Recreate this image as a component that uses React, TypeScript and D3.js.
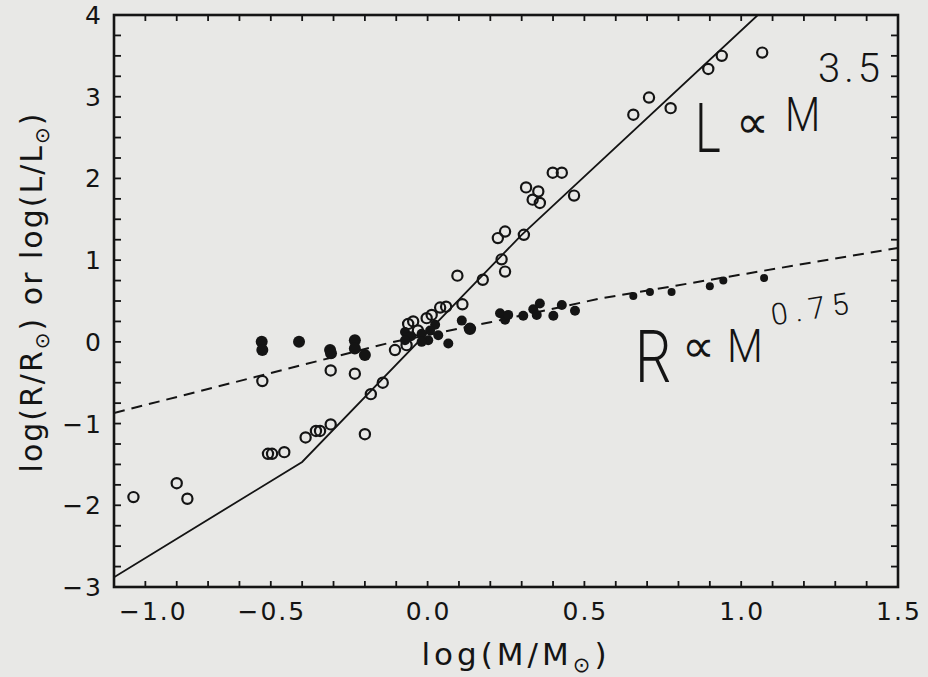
import React from 'react';
import * as d3 from 'd3';

const W = 928;
const H = 677;
const PL = 114, PR = 898, PT = 15, PB = 587;

// Open circles: log(L/Lsun) vs log(M/Msun)
const lumMass = [-0.938, -0.800, -0.766, -0.509, -0.496, -0.457, -0.527, -0.309, -0.232, -0.104,
  -0.389, -0.356, -0.343, -0.309, -0.200, -0.181, -0.143, -0.062, -0.046, -0.003,
  -0.067, 0.040, 0.059, 0.111, 0.095, 0.176, 0.247, 0.236, 0.224, 0.247,
  0.307, 0.314, 0.353, 0.335, 0.358, 0.467, 0.399, 0.428, 0.656, 0.706,
  0.775, 0.895, 0.938, 1.067, 0.013, -0.031, 0.135];
const lumVal = [-1.90, -1.73, -1.92, -1.37, -1.37, -1.35, -0.48, -0.35, -0.39, -0.10,
  -1.17, -1.09, -1.09, -1.01, -1.13, -0.64, -0.50, 0.22, 0.25, 0.29,
  -0.04, 0.42, 0.43, 0.46, 0.81, 0.76, 0.86, 1.01, 1.27, 1.35,
  1.31, 1.89, 1.84, 1.74, 1.70, 1.79, 2.07, 2.07, 2.78, 2.99,
  2.86, 3.34, 3.50, 3.54, 0.33, 0.14, 0.16];

// Filled dots: log(R/Rsun) vs log(M/Msun)
const radMass = [-0.529, -0.527, -0.410, -0.311, -0.308, -0.232, -0.232, -0.200,
  -0.072, -0.053, -0.019, 0.024, 0.034, 0.002, -0.019, -0.072, 0.066, 0.109, 0.135, 0.008,
  0.231, 0.247, 0.257, 0.305, 0.337, 0.358, 0.348, 0.401, 0.428, 0.470,
  0.656, 0.709, 0.778, 0.900, 0.943, 1.073];
const radVal = [0.00, -0.10, 0.00, -0.10, -0.14, 0.02, -0.08, -0.16,
  0.12, 0.07, 0.10, 0.21, 0.08, 0.02, 0.00, 0.02, -0.02, 0.26, 0.16, 0.14,
  0.35, 0.27, 0.33, 0.32, 0.40, 0.47, 0.33, 0.32, 0.45, 0.38,
  0.56, 0.61, 0.61, 0.68, 0.75, 0.78];

// Solid line L ~ M^3.5 and dashed line R ~ M^0.75
const lineLMass = [-1.0, -0.40, 0.30, 1.053];
const lineLVal = [-2.88, -1.47, 1.31, 4.0];
const lineRMass = [-1.0, -0.12, 0.20, 0.55, 1.5];
const lineRVal = [-0.87, -0.01, 0.24, 0.53, 1.15];

const xTickValues = [-1.0, -0.5, 0.0, 0.5, 1.0, 1.5];
const xTickLabels = ['\u22121.0', '\u22120.5', '0.0', '0.5', '1.0', '1.5'];
const yTickValues = [-3, -2, -1, 0, 1, 2, 3, 4];
const yTickLabels = ['\u22123', '\u22122', '\u22121', '0', '1', '2', '3', '4'];

const INK = '#141414';
const BG = '#e8e8e6';
const FONT = "'DejaVu Sans', 'Liberation Sans', sans-serif";
const HAND = "Roboto, 'DejaVu Sans', sans-serif";

export default function App() {
  const x = d3.scaleLinear().domain([-1.0, 1.5]).range([PL, PR]);
  const y = d3.scaleLinear().domain([-3, 4]).range([PB, PT]);

  const lineGen = d3.line<[number, number]>().x(d => x(d[0])).y(d => y(d[1]));
  const lPath = lineGen(lineLMass.map((m, i) => [m, lineLVal[i]] as [number, number])) || '';
  const rPath = lineGen(lineRMass.map((m, i) => [m, lineRVal[i]] as [number, number])) || '';

  const xMinor = d3.range(0, 26).map(i => -1 + i * 0.1);
  const yMinor = d3.range(0, 29).map(i => -3 + i * 0.25);

  const filledR = (m: number) => (m < -0.15 ? 6 : m > 0.6 ? 4 : 5);

  return (
    <svg width={W} height={H} style={{ position: 'absolute', left: 0, top: 0, background: BG }}>
      <rect x={0} y={0} width={W} height={H} fill={BG} />
      <defs>
        <clipPath id="plotclip">
          <rect x={PL} y={PT} width={PR - PL} height={PB - PT} />
        </clipPath>
      </defs>

      {/* ticks */}
      <g stroke={INK} strokeWidth={1.8}>
        {xMinor.map((v, i) => (
          <g key={'xt' + i}>
            <line x1={x(v)} x2={x(v)} y1={PB} y2={PB - 6} />
            <line x1={x(v)} x2={x(v)} y1={PT} y2={PT + 6} />
          </g>
        ))}
        {yMinor.map((v, i) => (
          <g key={'yt' + i}>
            <line x1={PL} x2={PL + 7} y1={y(v)} y2={y(v)} />
            <line x1={PR} x2={PR - 7} y1={y(v)} y2={y(v)} />
          </g>
        ))}
      </g>

      {/* frame */}
      <rect x={PL} y={PT} width={PR - PL} height={PB - PT} fill="none" stroke={INK} strokeWidth={2.6} />

      {/* tick labels */}
      <g fill={INK} fontFamily={FONT} fontSize={25} letterSpacing={2}>
        {xTickValues.map((v, i) => (
          <text key={'xl' + i} x={i === 0 ? x(v) + 5 : x(v) + 1} y={620}
            textAnchor={i === 0 ? 'start' : 'middle'}>{xTickLabels[i]}</text>
        ))}
        {yTickValues.map((v, i) => (
          <text key={'yl' + i} x={103} y={y(v) + 9} textAnchor="end">{yTickLabels[i]}</text>
        ))}
      </g>

      {/* axis titles */}
      <text x={516} y={665} textAnchor="middle" fill={INK} fontFamily={FONT} fontSize={31} letterSpacing={4}>
        log(M/M<tspan fontSize={21} dy={7}>⊙</tspan><tspan dy={-7}>)</tspan>
      </text>
      <text transform="translate(42,292) rotate(-90)" textAnchor="middle" fill={INK} fontFamily={FONT} fontSize={30} letterSpacing={2}>
        log(R/R<tspan fontSize={20} dy={7}>⊙</tspan><tspan dy={-7}>) or log(L/L</tspan><tspan fontSize={20} dy={7}>⊙</tspan><tspan dy={-7}>)</tspan>
      </text>

      <g clipPath="url(#plotclip)">
        {/* model lines */}
        <path d={lPath} fill="none" stroke={INK} strokeWidth={1.8} />
        <path d={rPath} fill="none" stroke={INK} strokeWidth={2} strokeDasharray="11,7" />

        {/* luminosity: open circles */}
        {lumMass.map((m, i) => (
          <circle key={'o' + i} cx={x(m)} cy={y(lumVal[i])} r={5.1} fill="none" stroke={INK} strokeWidth={2.2} />
        ))}
        {/* radius: filled dots */}
        {radMass.map((m, i) => (
          <circle key={'f' + i} cx={x(m)} cy={y(radVal[i])} r={filledR(m)} fill={INK} />
        ))}
      </g>

      {/* handwritten annotations */}
      <g fill={INK} fontFamily={HAND} fontWeight={300}>
        <text transform={`translate(${x(0.853)},${y(2.32)}) scale(0.72,1)`} fontSize={68}>L</text>
        <text x={x(0.985)} y={y(2.50)} fontSize={46} fontFamily={FONT}>∝</text>
        <text transform={`translate(${x(1.14)},${y(2.58)}) scale(0.85,1)`} fontSize={48}>M</text>
        <text x={x(1.245)} y={y(3.18)} fontSize={40} letterSpacing={4}>3.5</text>

        <text transform={`translate(${x(0.661)},${y(-0.49)}) scale(0.8,1)`} fontSize={72}>R</text>
        <text x={x(0.810)} y={y(-0.25)} fontSize={46} fontFamily={FONT}>∝</text>
        <text transform={`translate(${x(0.955)},${y(-0.25)}) scale(0.9,1)`} fontSize={46}>M</text>
        <text transform={`translate(${x(1.101)},${y(0.20)}) rotate(-9)`} fontSize={30} letterSpacing={7}>0.75</text>
      </g>
    </svg>
  );
}
